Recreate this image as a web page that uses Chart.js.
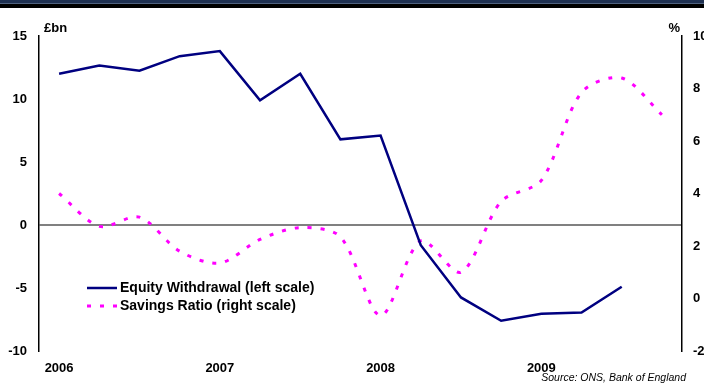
<!DOCTYPE html>
<html>
<head>
<meta charset="utf-8">
<script src="https://cdn.jsdelivr.net/npm/chart.js@4/dist/chart.umd.min.js"></script>
<style>
  html, body { margin: 0; padding: 0; background: #ffffff; }
  #wrap { position: relative; width: 704px; height: 385px; overflow: hidden; }
  #band1 { position: absolute; left: 0; top: 0; width: 704px; height: 3px; background: #1f3152; }
  #band2 { position: absolute; left: 0; top: 3px; width: 704px; height: 1px; background: #50627f; }
  #band3 { position: absolute; left: 0; top: 4px; width: 704px; height: 4px; background: #000000; }
  canvas { position: absolute; left: 0; top: 0; }
</style>
</head>
<body>
<div id="wrap">
  <canvas id="c" width="704" height="385"></canvas>
  <div id="band1"></div><div id="band2"></div><div id="band3"></div>
</div>
<script>
// Quarterly categories, 2006 Q1 to 2009 Q4 (year shown at each Q1)
const quarters = ['2006', '', '', '', '2007', '', '', '', '2008', '', '', '', '2009', '', '', ''];

// Mortgage equity withdrawal, £bn (left scale)
const equityWithdrawal = [12.0, 12.65, 12.25, 13.4, 13.8, 9.9, 12.0, 6.8, 7.1, -1.6, -5.75, -7.6, -7.05, -6.95, -4.9];

// Household savings ratio, % (right scale)
const savingsRatio = [4.0, 2.75, 3.1, 1.8, 1.35, 2.25, 2.7, 2.35, -0.65, 2.2, 1.0, 3.7, 4.5, 7.85, 8.4, 7.0];

// Axis ranges and tick steps
const leftAxis = { min: -10, max: 15, step: 5 };
const rightAxis = { min: -2, max: 10, step: 2 };

const seriesNames = ['Equity Withdrawal (left scale)', 'Savings Ratio (right scale)'];
const leftUnit = '£bn';
const rightUnit = '%';
const sourceNote = 'Source: ONS, Bank of England';

const FONT = "'Liberation Sans', Arial, sans-serif";
const NAVY = '#000080';
const MAGENTA = '#ff00ff';
const DASH = [4, 9];

// Unit captions, inline legend and source note
const annotations = {
  id: 'annotations',
  afterDraw(chart) {
    const ctx = chart.ctx;
    const area = chart.chartArea;
    ctx.save();
    ctx.fillStyle = '#000';
    ctx.textBaseline = 'middle';
    ctx.font = 'bold 13px ' + FONT;
    ctx.textAlign = 'left';
    ctx.fillText(leftUnit, area.left + 5, 28);
    ctx.textAlign = 'right';
    ctx.fillText(rightUnit, area.right - 2, 28);

    // legend inside the plot
    const ds = chart.data.datasets;
    const lx = area.left + 48, ly = area.top + 252, rowH = 18;
    ctx.font = 'bold 14px ' + FONT;
    ctx.textAlign = 'left';
    ds.forEach((d, i) => {
      const y = ly + i * rowH;
      ctx.beginPath();
      ctx.strokeStyle = d.borderColor;
      ctx.lineWidth = d.borderWidth;
      ctx.setLineDash(d.borderDash || []);
      ctx.moveTo(lx, y);
      ctx.lineTo(lx + 30, y);
      ctx.stroke();
      ctx.setLineDash([]);
      ctx.fillStyle = '#000';
      ctx.fillText(d.label, lx + 33, y);
    });

    ctx.font = 'italic 10.5px ' + FONT;
    ctx.textAlign = 'right';
    ctx.fillText(sourceNote, 686, 378);
    ctx.restore();
  }
};

new Chart(document.getElementById('c'), {
  type: 'line',
  data: {
    labels: quarters,
    datasets: [
      {
        label: seriesNames[0],
        data: equityWithdrawal,
        yAxisID: 'yL',
        borderColor: NAVY,
        borderWidth: 2.5,
        pointRadius: 0,
        tension: 0,
        fill: false
      },
      {
        label: seriesNames[1],
        data: savingsRatio,
        yAxisID: 'yR',
        borderColor: MAGENTA,
        borderWidth: 3,
        borderDash: DASH,
        borderCapStyle: 'butt',
        pointRadius: 0,
        tension: 0.3,
        fill: false
      }
    ]
  },
  options: {
    responsive: false,
    animation: false,
    devicePixelRatio: 1,
    layout: { padding: { top: 36, left: 0, right: 0, bottom: 0 } },
    plugins: { legend: { display: false }, tooltip: { enabled: false } },
    scales: {
      x: {
        type: 'category',
        offset: true,
        grid: { display: false, drawTicks: false },
        border: { display: false },
        ticks: {
          autoSkip: false, maxRotation: 0, minRotation: 0,
          color: '#000', padding: 10,
          font: { family: FONT, size: 13, weight: 'bold' }
        },
        afterFit(scale) { scale.height = 34; }
      },
      yL: {
        position: 'left',
        min: leftAxis.min, max: leftAxis.max,
        ticks: {
          stepSize: leftAxis.step, color: '#000', padding: 12,
          font: { family: FONT, size: 13, weight: 'bold' }
        },
        grid: {
          drawTicks: false,
          lineWidth: 2,
          color: (c) => (c.tick && c.tick.value === 0) ? '#808080' : 'rgba(0,0,0,0)'
        },
        border: { color: '#000', width: 1.5 },
        afterFit(scale) { scale.width = 39; }
      },
      yR: {
        position: 'right',
        min: rightAxis.min, max: rightAxis.max,
        ticks: {
          stepSize: rightAxis.step, color: '#000', padding: 11,
          font: { family: FONT, size: 13, weight: 'bold' }
        },
        grid: { drawOnChartArea: false, drawTicks: false },
        border: { color: '#000', width: 1.5 },
        afterFit(scale) { scale.width = 22; }
      }
    }
  },
  plugins: [annotations]
});
</script>
</body>
</html>
